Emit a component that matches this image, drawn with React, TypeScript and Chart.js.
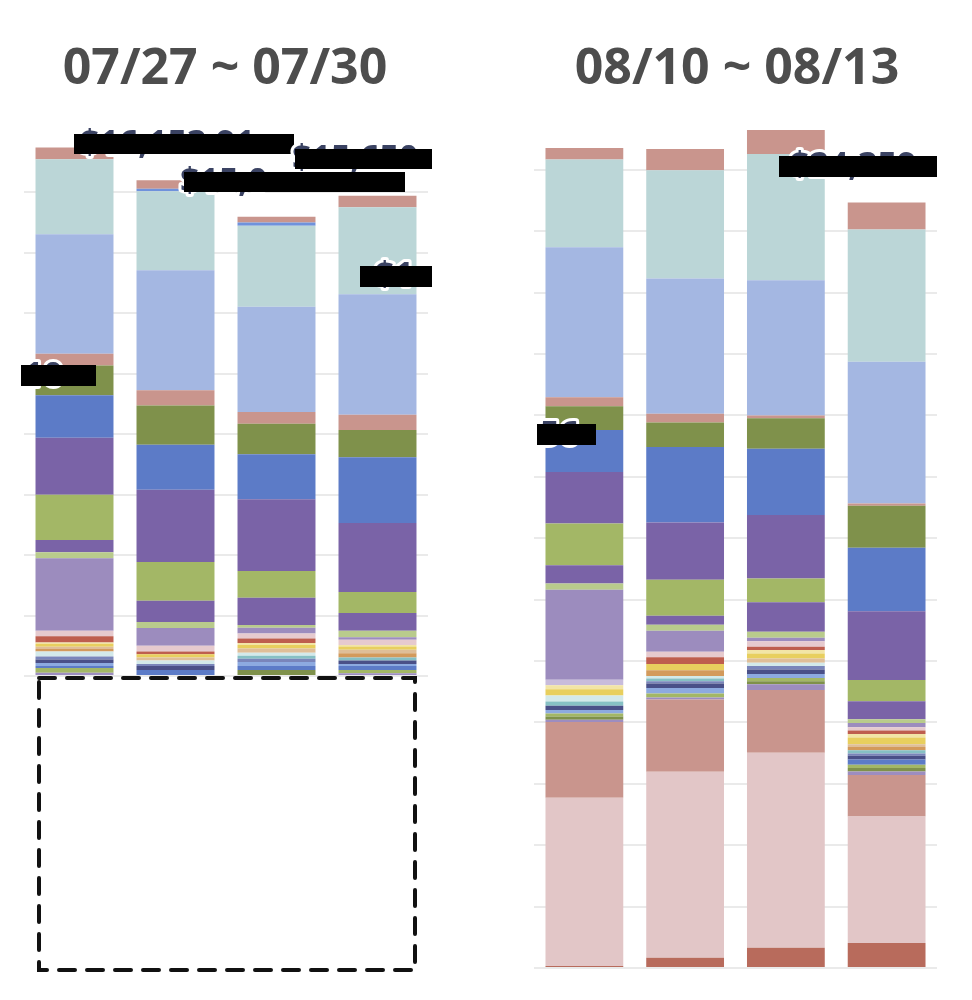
import React, { useEffect, useRef } from "react";
import { Chart, registerables } from "chart.js";

Chart.register(...registerables);

const leftCategories = ["07/27", "07/28", "07/29", "07/30"];
const rightCategories = ["08/10", "08/11", "08/12", "08/13"];

const seriesNames = Array.from({ length: 31 }, (_, i) => `Item ${i + 1}`);

// bottom -> top
const seriesColors = [
  "#B86B5C", "#E2C6C7", "#C9958D", "#9D8DC0", "#7F914B", "#A3B766",
  "#5C7BC7", "#8DAAE0", "#4A5088", "#7A85BA", "#86C0C4", "#D3E9EA",
  "#D39A5C", "#DFBE98", "#E8CF5E", "#F2E5A6", "#BE5E4E", "#E6CACE",
  "#C8BCDC", "#9C8CBE", "#B9CB8C", "#7A63A7", "#A3B766", "#7A63A7",
  "#5C7BC7", "#7F914B", "#C9958D", "#A4B7E2", "#BBD6D7", "#6F92DC",
  "#C9958D",
];

// one row per series, one column per day
const leftValues = [
  [0, 0, 0, 0],
  [0, 0, 0, 0],
  [0, 0, 0, 0],
  [100, 30, 0, 80],
  [0, 0, 180, 0],
  [140, 0, 0, 100],
  [60, 150, 120, 120],
  [90, 0, 120, 60],
  [100, 120, 0, 100],
  [90, 60, 90, 0],
  [0, 0, 90, 90],
  [150, 100, 90, 0],
  [70, 0, 0, 130],
  [70, 90, 130, 100],
  [90, 100, 100, 100],
  [40, 0, 65, 45],
  [180, 80, 130, 0],
  [170, 170, 150, 150],
  [0, 0, 0, 0],
  [2150, 530, 170, 80],
  [180, 180, 80, 190],
  [370, 630, 810, 530],
  [1340, 1150, 800, 625],
  [1700, 2150, 2130, 2050],
  [1260, 1340, 1340, 1960],
  [890, 1170, 910, 810],
  [345, 450, 350, 450],
  [3560, 3570, 3130, 3590],
  [2230, 2350, 2410, 2590],
  [0, 80, 100, 0],
  [350, 250, 170, 340],
];

const rightValues = [
  [60, 300, 590, 730],
  [4930, 5450, 5720, 3710],
  [2220, 2120, 1840, 1220],
  [70, 60, 170, 100],
  [90, 0, 90, 100],
  [90, 120, 90, 100],
  [0, 0, 0, 150],
  [100, 160, 120, 0],
  [130, 130, 130, 110],
  [0, 70, 100, 70],
  [120, 80, 0, 90],
  [180, 70, 100, 0],
  [0, 170, 0, 100],
  [0, 0, 120, 80],
  [180, 180, 150, 200],
  [120, 0, 100, 100],
  [0, 200, 100, 100],
  [0, 160, 160, 100],
  [160, 0, 0, 0],
  [2640, 620, 100, 120],
  [180, 170, 180, 110],
  [540, 270, 860, 530],
  [1220, 1050, 700, 620],
  [1510, 1680, 1860, 2020],
  [1230, 2210, 1940, 1860],
  [700, 720, 900, 1230],
  [260, 260, 80, 70],
  [4400, 3960, 3960, 4150],
  [2570, 3180, 3700, 3880],
  [0, 0, 0, 0],
  [340, 620, 710, 790],
];

const leftTotalLabels = ["$16,153.91", "$15,650", "$15,0", "$1", "10"];
const rightTotalLabels = ["$24,359", "56"];

const STEP = 1800;

type Note = { text: string; x: number; y: number; box: [number, number, number, number] };

interface PanelProps {
  categories: string[];
  values: number[][];
  max: number;
  padding: { left: number; right: number; top: number; bottom: number };
  notes: Note[];
  width: number;
  height: number;
  left: number;
  top: number;
}

const StackedPanel: React.FC<PanelProps> = ({
  categories,
  values,
  max,
  padding,
  notes,
  width,
  height,
  left,
  top,
}) => {
  const chartRef = useRef<HTMLCanvasElement | null>(null);

  useEffect(() => {
    const ctx = chartRef.current?.getContext("2d");
    if (!ctx) return;

    // redacted total labels: dark text with white halo, covered by a black bar
    const redactPlugin = {
      id: "redact",
      afterDraw(chart: Chart) {
        const c = chart.ctx;
        c.save();
        c.font = "bold 34px 'Open Sans'";
        c.textBaseline = "middle";
        c.textAlign = "left";
        c.lineJoin = "round";
        notes.forEach((n) => {
          c.lineWidth = 6;
          c.strokeStyle = "#ffffff";
          c.strokeText(n.text, n.x, n.y);
          c.fillStyle = "#3A4262";
          c.fillText(n.text, n.x, n.y);
          c.fillStyle = "#000000";
          c.fillRect(n.box[0], n.box[1], n.box[2], n.box[3]);
        });
        c.restore();
      },
    };

    const chart = new Chart(ctx, {
      type: "bar",
      data: {
        labels: categories,
        datasets: values.map((row, i) => ({
          label: seriesNames[i],
          data: row,
          backgroundColor: seriesColors[i],
          borderWidth: 0,
          categoryPercentage: 1,
          barPercentage: 0.772,
        })),
      },
      options: {
        responsive: false,
        animation: false,
        layout: { padding },
        plugins: {
          legend: { display: false },
          tooltip: { enabled: false },
          title: { display: false },
        },
        scales: {
          x: {
            stacked: true,
            display: false,
          },
          y: {
            stacked: true,
            min: 0,
            max,
            ticks: { display: false, stepSize: STEP },
            border: { display: false },
            grid: {
              drawTicks: false,
              lineWidth: 2,
              color: (c: any) =>
                c.tick && c.tick.value < max ? "#EAEAEA" : "rgba(0,0,0,0)",
            },
          },
        },
      },
      plugins: [redactPlugin],
    } as any);

    return () => {
      chart.destroy();
    };
  }, []);

  return (
    <canvas
      ref={chartRef}
      width={width}
      height={height}
      style={{ position: "absolute", left, top, width, height }}
    ></canvas>
  );
};

const titleStyle: React.CSSProperties = {
  position: "absolute",
  top: 40,
  width: 500,
  textAlign: "center",
  fontFamily: "'Open Sans', 'Noto Sans', sans-serif",
  fontWeight: 700,
  fontSize: 50,
  lineHeight: "50px",
  color: "#4D4D4D",
  whiteSpace: "nowrap",
};

const App: React.FC = () => {
  const leftNotes: Note[] = [
    { text: leftTotalLabels[0], x: 80, y: 44, box: [74, 34, 220, 20] },
    { text: leftTotalLabels[1], x: 292, y: 59, box: [295, 49, 137, 20] },
    { text: leftTotalLabels[2], x: 180, y: 82, box: [184, 72, 221, 20] },
    { text: leftTotalLabels[3], x: 375, y: 176, box: [360, 166, 72, 21] },
    { text: leftTotalLabels[4], x: 24, y: 276, box: [21, 265, 75, 21] },
  ];
  const rightNotes: Note[] = [
    { text: rightTotalLabels[0], x: 270, y: 66, box: [259, 56, 158, 21] },
    { text: rightTotalLabels[1], x: 20, y: 335, box: [17, 324, 59, 21] },
  ];

  return (
    <div
      style={{
        position: "absolute",
        left: 0,
        top: 0,
        width: 972,
        height: 1000,
        background: "#ffffff",
        overflow: "hidden",
      }}
    >
      <div style={{ ...titleStyle, left: 225 - 250 }}>07/27 ~ 07/30</div>
      <div style={{ ...titleStyle, left: 737 - 250 }}>08/10 ~ 08/13</div>

      <StackedPanel
        categories={leftCategories}
        values={leftValues}
        max={STEP * 9}
        padding={{ left: 24, right: 4, top: 31.5, bottom: 4 }}
        notes={leftNotes}
        width={432}
        height={580}
        left={0}
        top={100}
      />
      <StackedPanel
        categories={rightCategories}
        values={rightValues}
        max={STEP * 14}
        padding={{ left: 14, right: 0, top: 8.4, bottom: 12 }}
        notes={rightNotes}
        width={417}
        height={880}
        left={520}
        top={100}
      />

      <svg
        width={972}
        height={1000}
        style={{ position: "absolute", left: 0, top: 0, pointerEvents: "none" }}
      >
        <rect
          x={39}
          y={678}
          width={376}
          height={292}
          fill="none"
          stroke="#111111"
          strokeWidth={4}
          strokeDasharray="16 12"
          strokeLinecap="round"
        />
      </svg>
    </div>
  );
};

export default App;
